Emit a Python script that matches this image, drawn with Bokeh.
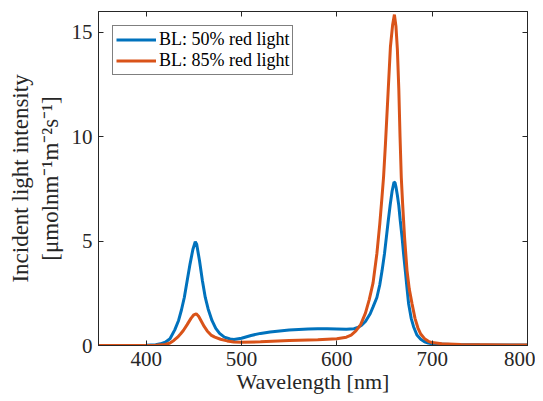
from bokeh.plotting import figure
from bokeh.models import LinearAxis, FixedTicker, Legend, LegendItem, Range1d
from bokeh.embed import file_html
from bokeh.resources import INLINE

# Wavelength grid [nm] and series values
wl_50 = [350, 400, 410, 415, 420, 425, 430, 434, 437, 440, 443, 446, 449, 451.5, 453,
         456, 459, 462, 465, 469, 473, 477, 482, 488, 492, 500, 510, 520, 530, 540,
         550, 560, 570, 580, 590, 600, 610, 618, 622, 626, 630, 635, 638, 642, 645,
         647.5, 650, 652, 654, 656, 658, 660, 661, 662, 663.5, 665, 666.5, 668.4, 670, 672,
         673.5, 675.3, 678, 680.5, 684, 688, 692, 696, 700, 720, 750, 800]
bl_50 = [0.0, 0.01, 0.04, 0.08, 0.16, 0.32, 0.75, 1.2, 1.7, 2.3, 3.1, 3.9, 4.6, 4.97, 4.85,
         4.05, 3.1, 2.3, 1.75, 1.2, 0.82, 0.58, 0.4, 0.31, 0.29, 0.35, 0.48, 0.58, 0.65, 0.7,
         0.74, 0.77, 0.79, 0.8, 0.8, 0.79, 0.78, 0.8, 0.86, 0.97, 1.15, 1.52, 1.85, 2.3, 2.9,
         3.6, 4.4, 5.2, 6.0, 6.75, 7.4, 7.83, 7.8, 7.6, 7.2, 6.7, 6.0, 5.2, 4.4, 3.5,
         2.8, 2.0, 1.3, 0.9, 0.5, 0.3, 0.18, 0.12, 0.08, 0.05, 0.03, 0.02]

wl_85 = [350, 410, 420, 425, 429, 433, 436, 439, 443, 447, 450, 452.5, 455, 458, 461,
         464, 468, 472, 478, 485, 492, 500, 520, 550, 580, 600, 610, 615, 620, 625,
         630, 634, 638, 642, 645, 647, 649, 651, 653.7, 656.2, 658.5, 660.4, 662, 663.5, 665,
         666.3, 667.6, 669, 671, 673.6, 676, 678.9, 682, 685, 688, 692, 696, 700, 710, 730, 800]
bl_85 = [0.0, 0.01, 0.05, 0.12, 0.24, 0.4, 0.55, 0.72, 1.0, 1.3, 1.47, 1.52, 1.4, 1.15, 0.9,
         0.7, 0.5, 0.4, 0.3, 0.22, 0.17, 0.15, 0.18, 0.24, 0.28, 0.32, 0.4, 0.5, 0.7, 1.0,
         1.55, 2.2, 3.0, 4.4, 5.8, 6.9, 8.06, 9.66, 12.06, 14.3, 15.35, 15.85, 15.3, 14.2, 12.3,
         10.0, 8.06, 6.8, 5.2, 3.6, 2.7, 2.0, 1.3, 0.85, 0.55, 0.33, 0.2, 0.14, 0.08, 0.05, 0.02]

x_ticks = [400, 500, 600, 700, 800]
y_ticks = [0, 5, 10, 15]
labels = ["BL: 50% red light", "BL: 85% red light"]
colors = ["#0072BD", "#D95319"]

FONT = "Liberation Serif"
AX = "#262626"

p = figure(width=535, height=400, output_backend="svg", toolbar_location=None,
           x_range=Range1d(350, 800), y_range=Range1d(0, 16),
           min_border_left=98, min_border_right=8, min_border_top=11, min_border_bottom=55)
p.xgrid.visible = False
p.ygrid.visible = False
p.outline_line_color = AX
p.outline_line_width = 1

r1 = p.line(wl_50, bl_50, line_color=colors[0], line_width=3)
r2 = p.line(wl_85, bl_85, line_color=colors[1], line_width=3)

def style(ax, show_labels=True):
    ax.axis_line_color = AX
    ax.major_tick_line_color = AX
    ax.major_tick_in = 5
    ax.major_tick_out = 0
    ax.minor_tick_line_color = None
    ax.major_label_text_font = FONT
    ax.major_label_text_font_size = "21px"
    ax.major_label_text_color = AX
    ax.axis_label_text_font = FONT
    ax.axis_label_text_font_size = "23px"
    ax.axis_label_text_font_style = "normal"
    ax.axis_label_text_color = AX
    if not show_labels:
        ax.major_label_text_font_size = "0px"
        ax.major_label_text_color = None

xa = p.xaxis[0]
xa.ticker = FixedTicker(ticks=x_ticks)
xa.axis_label = "Wavelength [nm]"
xa.major_label_standoff = 6
xa.axis_label_standoff = 0
style(xa)
xa.axis_label_text_font_size = "22px"

ya = p.yaxis[0]
ya.ticker = FixedTicker(ticks=y_ticks)
ya.axis_label = "Incident light intensity\n[μmolnm⁻¹m⁻²s⁻¹]"
ya.major_label_standoff = 6
ya.axis_label_standoff = 6
style(ya)

top = LinearAxis(ticker=FixedTicker(ticks=x_ticks))
style(top, False)
p.add_layout(top, "above")
right = LinearAxis(ticker=FixedTicker(ticks=y_ticks))
style(right, False)
p.add_layout(right, "right")

legend = Legend(items=[LegendItem(label=labels[0], renderers=[r1]),
                       LegendItem(label=labels[1], renderers=[r2])],
                location="top_left")
legend.margin = 14
legend.padding = 3
legend.spacing = 0
legend.glyph_width = 40
legend.glyph_height = 21
legend.label_height = 21
legend.label_standoff = 3
legend.label_text_font = FONT
legend.label_text_font_size = "18px"
legend.label_text_color = "black"
legend.border_line_color = "black"
legend.border_line_width = 1
legend.background_fill_color = "white"
legend.background_fill_alpha = 1
p.add_layout(legend)

open("out.html", "w").write(file_html(p, INLINE))
